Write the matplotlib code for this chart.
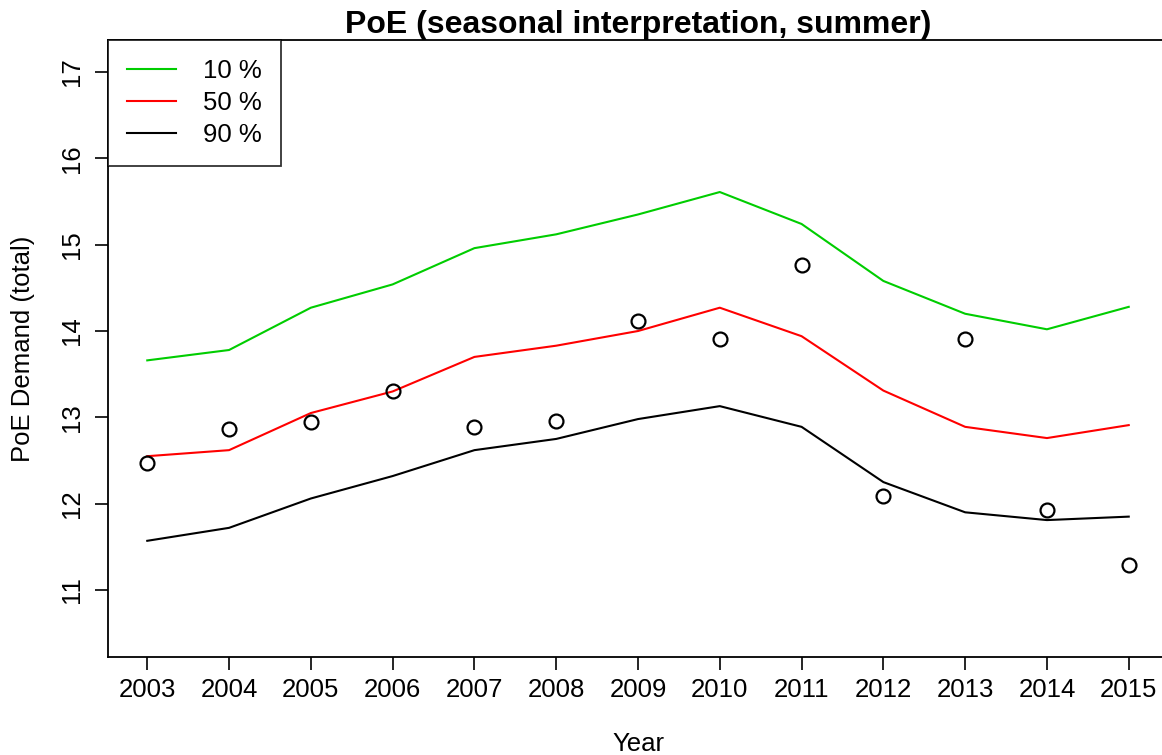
import matplotlib
matplotlib.use("Agg")
import matplotlib.pyplot as plt

years = list(range(2003, 2016))
poe10 = [13.66, 13.78, 14.27, 14.54, 14.96, 15.12, 15.35, 15.61, 15.24, 14.58, 14.20, 14.02, 14.28]
poe50 = [12.55, 12.62, 13.05, 13.30, 13.70, 13.83, 14.00, 14.27, 13.94, 13.31, 12.89, 12.76, 12.91]
poe90 = [11.57, 11.72, 12.06, 12.32, 12.62, 12.75, 12.98, 13.13, 12.89, 12.25, 11.90, 11.81, 11.85]
actual = [12.47, 12.86, 12.95, 13.31, 12.89, 12.96, 14.12, 13.91, 14.76, 12.09, 13.91, 11.93, 11.29]
yticks = [11, 12, 13, 14, 15, 16, 17]

plt.rcParams["font.family"] = ["Liberation Sans", "DejaVu Sans"]
FS = 18.5

fig = plt.figure(figsize=(11.62, 7.55), dpi=100)
ax = fig.add_axes([108 / 1162, 98 / 755, 1060 / 1162, 617 / 755])

ax.plot(years, poe10, color="#00cd00", lw=1.5, label="10 %")
ax.plot(years, poe50, color="#ff0000", lw=1.5, label="50 %")
ax.plot(years, poe90, color="black", lw=1.5, label="90 %")
ax.plot(years, actual, "o", mfc="none", mec="black", mew=1.6, ms=10)

ax.set_xlim(2002.52, 2015.48)
ax.set_ylim(10.224, 17.371)
ax.set_xticks(years)
ax.set_yticks(yticks)
ax.set_yticklabels([str(v) for v in yticks], rotation=90, va="center")
ax.tick_params(labelsize=FS, length=9.5, width=1.2, pad=5.5)
ax.tick_params(axis="y", pad=7.5)
for s in ax.spines.values():
    s.set_linewidth(1.3)

ax.set_xlabel("Year", fontsize=FS, labelpad=22)
ax.set_ylabel("PoE Demand (total)", fontsize=FS, labelpad=18)
ax.set_title("PoE (seasonal interpretation, summer)", fontsize=23,
             weight="bold", pad=5)

leg = ax.legend(loc="upper left", fontsize=FS, borderaxespad=0, frameon=True,
                fancybox=False, edgecolor="black", handlelength=1.9,
                handletextpad=1.05, labelspacing=0.30, borderpad=0.75)
leg.get_frame().set_linewidth(1.3)

fig.savefig("out.png", dpi=100, facecolor="white")
